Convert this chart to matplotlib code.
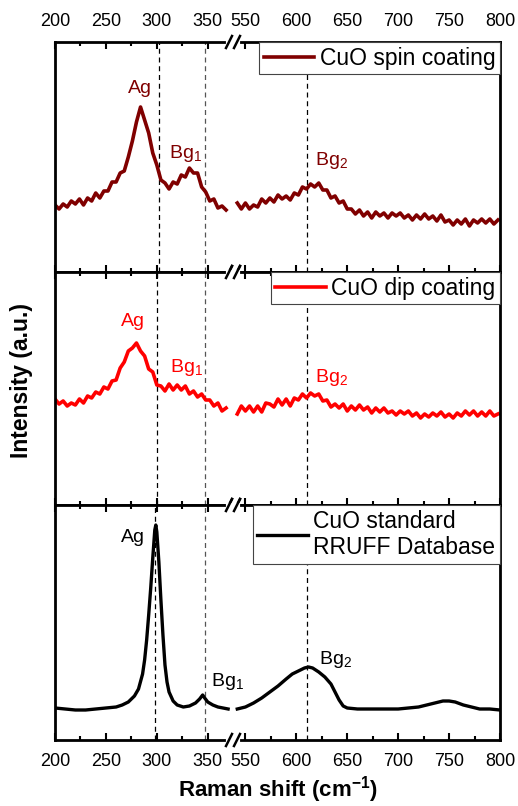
import numpy as np
import matplotlib
matplotlib.use("Agg")
import matplotlib.pyplot as plt
from matplotlib.ticker import FixedLocator

plt.rcParams['font.family'] = ['Liberation Sans', 'DejaVu Sans']
plt.rcParams['mathtext.fontset'] = 'custom'
plt.rcParams['mathtext.rm'] = 'Liberation Sans'
plt.rcParams['mathtext.bf'] = 'Liberation Sans:bold'

# ---- data (intensity in arbitrary units) ----
x_left = [200, 204, 208, 212, 216, 220, 224, 228, 232, 236, 240, 244, 248, 252, 256,
          260, 264, 268, 272, 276, 280, 284, 288, 292, 296, 300, 304, 308, 312, 316,
          320, 324, 328, 332, 336, 340, 344, 348, 352, 356, 360, 364, 368]
x_right = [542, 546, 550, 554, 558, 562, 566, 570, 574, 578, 582, 586, 590, 594, 598,
           602, 606, 610, 614, 618, 622, 626, 630, 634, 638, 642, 646, 650, 654, 658,
           662, 666, 670, 674, 678, 682, 686, 690, 694, 698, 702, 706, 710, 714, 718,
           722, 726, 730, 734, 738, 742, 746, 750, 754, 758, 762, 766, 770, 774, 778,
           782, 786, 790, 794, 798]

spin_left = [67, 63, 68, 65, 71, 68, 73, 67, 74, 71, 79, 74, 81, 81, 90,
             90, 99, 101, 115, 131, 150, 165, 152, 139, 119, 107, 92, 89, 83, 90,
             88, 97, 95, 104, 99, 99, 85, 80, 71, 73, 64, 66, 62]
spin_right = [69, 63, 69, 63, 67, 65, 73, 69, 74, 70, 77, 73, 76, 72, 79,
              77, 85, 83, 88, 85, 89, 82, 82, 74, 76, 69, 71, 63, 63, 58,
              62, 56, 60, 54, 60, 56, 59, 54, 59, 56, 59, 54, 57, 52, 57,
              53, 58, 53, 56, 51, 57, 50, 52, 47, 52, 48, 53, 46, 52, 49,
              53, 49, 53, 48, 52]

dip_left = [106, 101, 104, 99, 102, 100, 106, 102, 109, 107, 113, 111, 118, 116, 124,
            125, 137, 143, 154, 157, 162, 154, 149, 136, 133, 120, 119, 114, 121, 115,
            120, 115, 119, 111, 114, 108, 111, 105, 105, 99, 102, 94, 97]
dip_right = [91, 99, 94, 99, 93, 99, 93, 102, 101, 98, 106, 100, 106, 99, 107,
             105, 111, 107, 112, 109, 111, 104, 105, 98, 101, 97, 101, 94, 99, 95,
             100, 95, 98, 92, 97, 93, 97, 92, 94, 90, 94, 91, 94, 89, 92,
             87, 91, 88, 92, 89, 93, 88, 91, 87, 92, 89, 94, 90, 94, 89,
             93, 89, 94, 89, 91]

std_x_left = [200, 210, 220, 230, 240, 250, 260, 266, 272, 278, 282, 286, 288, 290, 292,
              294, 296, 298, 299, 300, 302, 304, 306, 308, 310, 312, 316, 320, 326, 332,
              338, 342, 345, 347, 350, 355, 360, 365, 370]
std_left = [32, 31, 30, 30, 31, 32, 33, 35, 38, 44, 51, 66, 80, 100, 125,
            152, 182, 210, 215, 208, 178, 140, 105, 75, 58, 48, 39, 35, 33, 34,
            37, 41, 45, 42, 38, 35, 33, 32, 31]
std_x_right = [542, 550, 558, 566, 574, 582, 590, 596, 602, 608, 612, 616, 622, 628, 634,
               638, 642, 646, 650, 660, 670, 680, 690, 700, 710, 720, 728, 736, 744, 750,
               756, 764, 772, 780, 790, 800]
std_right = [31, 33, 37, 42, 48, 54, 61, 66, 69, 72, 73, 72, 68, 63, 56,
             48, 40, 34, 32, 31, 31, 31, 31, 31, 32, 33, 35, 37, 39, 39,
             38, 35, 33, 31, 31, 30]

panels = [
    dict(label='CuO spin coating', color='#800000', lw=2.6,
         xl=x_left, yl=spin_left, xr=x_right, yr=spin_right,
         lines=[302, 347, 610],
         notes=[('Ag', 283, 184), ('Bg$_\\mathregular{1}$', 328, 119), ('Bg$_\\mathregular{2}$', 634, 112)]),
    dict(label='CuO dip coating', color='#FF0000', lw=2.6,
         xl=x_left, yl=dip_left, xr=x_right, yr=dip_right,
         lines=[300, 347, 610],
         notes=[('Ag', 277, 183), ('Bg$_\\mathregular{1}$', 329, 137), ('Bg$_\\mathregular{2}$', 634, 127)]),
    dict(label='CuO standard\nRRUFF Database', color='black', lw=2.4,
         xl=std_x_left, yl=std_left, xr=std_x_right, yr=std_right,
         lines=[298, 347, 610],
         notes=[('Ag', 277, 202), ('Bg$_\\mathregular{1}$', 369, 58), ('Bg$_\\mathregular{2}$', 638, 80)]),
]

# broken axis: 375..538 squeezed out
L, R = 375.0, 538.0


def fwd(x):
    x = np.asarray(x, dtype=float)
    return np.where(x <= L, x, np.where(x >= R, x - (R - L), L))


def inv(y):
    y = np.asarray(y, dtype=float)
    return np.where(y <= L, y, y + (R - L))


W, H = 518, 806
fig = plt.figure(figsize=(W / 100, H / 100), dpi=100)
boxes = [(42, 272), (272, 505), (505, 740)]
major = [200, 250, 300, 350, 550, 600, 650, 700, 750, 800]
minor = [225, 275, 325, 575, 625, 675, 725, 775]

axes = []
for i, (p, (top, bot)) in enumerate(zip(panels, boxes)):
    ax = fig.add_axes([55 / W, 1 - bot / H, 445 / W, (bot - top) / H])
    ax.set_xscale('function', functions=(fwd, inv))
    ax.set_xlim(200, 800)
    ax.set_ylim(0, bot - top)

    ax.plot(p['xl'], p['yl'], color=p['color'], lw=p['lw'], label=p['label'])
    ax.plot(p['xr'], p['yr'], color=p['color'], lw=p['lw'])

    for j, xv in enumerate(p['lines']):
        ax.axvline(xv, color='#555555' if j == 1 else 'black', lw=0.9,
                   dashes=(4, 3), zorder=1)

    for txt, tx, ty in p['notes']:
        ax.text(tx, ty, txt, color=p['color'], fontsize=14, ha='center', va='center')

    leg = ax.legend(loc='upper right', fontsize=16.5, handlelength=2.2, handletextpad=0.25,
                    borderaxespad=0.0, borderpad=0.2, fancybox=False, framealpha=1,
                    edgecolor='#444444')
    leg.get_frame().set_linewidth(0.8)

    ax.xaxis.set_major_locator(FixedLocator(major))
    ax.xaxis.set_minor_locator(FixedLocator(minor))
    ax.set_yticks([])
    ax.tick_params(axis='x', which='both', direction='in', top=True, bottom=True,
                   labelbottom=(i == 2), labeltop=(i == 0), labelsize=13, pad=9, width=1.5)
    ax.tick_params(axis='x', which='major', length=5)
    ax.tick_params(axis='x', which='minor', length=3)
    for s in ax.spines.values():
        s.set_linewidth(2)

    # break marks on top and bottom spines
    bx = (233 - 55) / 445
    ph = bot - top
    for yy in (0, 1):
        ax.plot([bx - 5 / 445, bx + 5 / 445], [yy, yy], transform=ax.transAxes,
                color='white', lw=3, clip_on=False, zorder=5)
        for off in (-4, 4):
            cx = bx + off / 445
            ax.plot([cx - 3 / 445, cx + 3 / 445], [yy - 6 / ph, yy + 6 / ph],
                    transform=ax.transAxes, color='black', lw=1.8,
                    clip_on=False, zorder=6)
    axes.append(ax)

axes[2].set_xlabel('Raman shift (cm$^{\\mathregular{-1}}$)', fontsize=16,
                   fontweight='bold', labelpad=3)
fig.text(22 / W, 1 - 380 / H, 'Intensity (a.u.)', rotation=90, fontsize=16.5,
         fontweight='bold', ha='center', va='center')

fig.savefig('out.png', dpi=100)
